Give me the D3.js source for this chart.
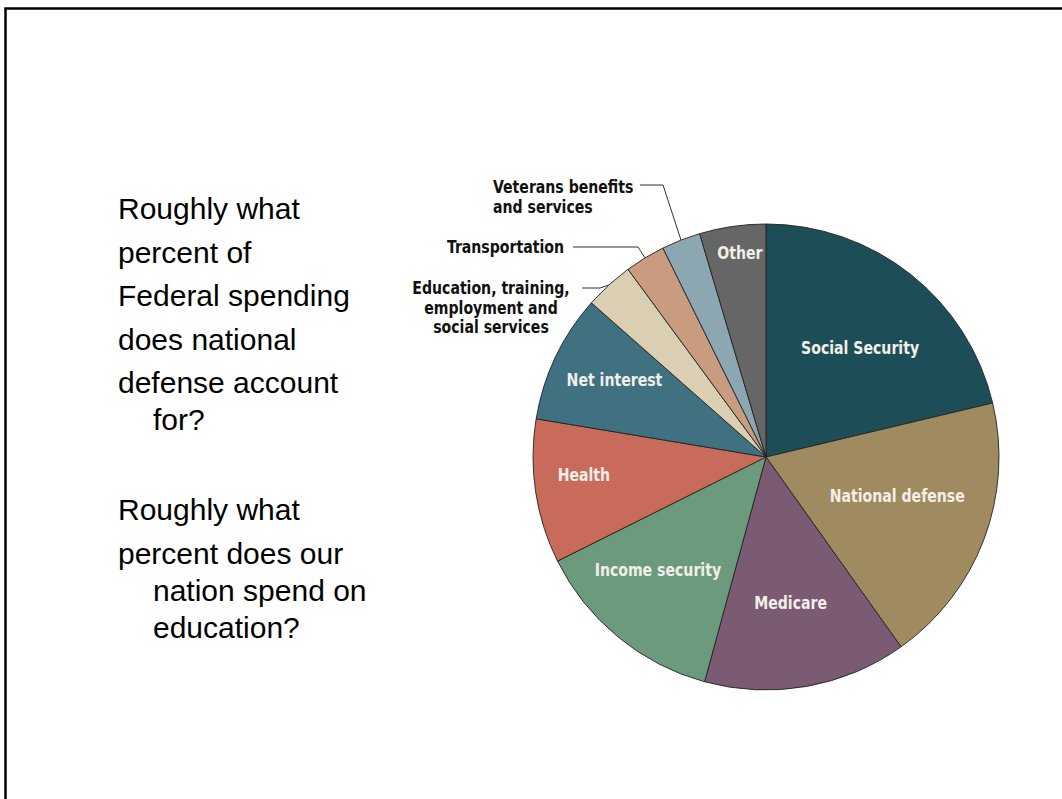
<!DOCTYPE html>
<html>
<head>
<meta charset="utf-8">
<script src="https://cdn.jsdelivr.net/npm/d3@7"></script>
<style>
  html, body { margin: 0; padding: 0; background: #fff; }
  svg { display: block; }
  .question { font-family: "Liberation Sans", Arial, sans-serif; font-size: 30px; fill: #000; }
  .slice-label { font-family: "Liberation Sans Narrow", "DejaVu Sans Condensed", "Liberation Sans", sans-serif; font-weight: bold; font-size: 18px; }
</style>
</head>
<body>
<svg id="chart" width="1062" height="799"></svg>
<script>
// Federal spending shares (percent), clockwise from 12 o'clock
const categories = [
  "Social Security", "National defense", "Medicare", "Income security", "Health",
  "Net interest", "Education, training, employment and social services",
  "Transportation", "Veterans benefits and services", "Other"
];
const shares = [21.3, 18.9, 14.1, 13.4, 10.0, 8.9, 3.4, 2.8, 2.7, 4.6];
const sliceColors = [
  "#1d4e57", "#a08a5f", "#7b5a73", "#6b9a7d", "#c86b5b",
  "#3f7181", "#dacfb2", "#c99b7f", "#8ca6b2", "#666666"
];

// question text on the left of the slide
const questionLines = [
  { text: "Roughly what", indent: false },
  { text: "percent of", indent: false },
  { text: "Federal spending", indent: false },
  { text: "does national", indent: false },
  { text: "defense account", indent: false },
  { text: "for?", indent: true },
  { text: "Roughly what", indent: false, gap: true },
  { text: "percent does our", indent: false },
  { text: "nation spend on", indent: true },
  { text: "education?", indent: true }
];

const svg = d3.select("#chart");
const squeeze = 0.87; // the chart's labels use a condensed face

// slide frame (only top and left edges show)
svg.append("path")
  .attr("d", "M5.5,799 V8.5 H1062")
  .attr("fill", "none")
  .attr("stroke", "#000")
  .attr("stroke-width", 2.5);

// questions
let y = 219;
questionLines.forEach((d, i) => {
  if (i > 0) {
    if (d.gap) y += 90;
    else if (d.indent) y += 37;
    else y += 43.5;
  }
  svg.append("text")
    .attr("class", "question")
    .attr("x", d.indent ? 153 : 118)
    .attr("y", y)
    .text(d.text);
});

// pie
const cx = 766, cy = 457, radius = 233;
const data = categories.map((c, i) => ({ name: c, value: shares[i], color: sliceColors[i] }));

const pie = d3.pie()
  .sort(null)
  .value(d => d.value)
  .startAngle(0)
  .endAngle(2 * Math.PI);

const arcs = pie(data);
const arc = d3.arc().innerRadius(0).outerRadius(radius);

const g = svg.append("g").attr("transform", `translate(${cx},${cy})`);

g.selectAll("path.slice")
  .data(arcs)
  .join("path")
  .attr("class", "slice")
  .attr("d", arc)
  .attr("fill", d => d.data.color)
  .attr("stroke", "#222")
  .attr("stroke-width", 0.9);

// inside labels: radius (and small angle nudge) where each one sits
const insideLabels = {
  "Social Security": { r: 144, da: 2.5 },
  "National defense": { r: 137, da: -4 },
  "Medicare": { r: 148, da: 0.5 },
  "Income security": { r: 156, da: 4.5 },
  "Health": { r: 183, da: 3 },
  "Net interest": { r: 170, da: 1.5 },
  "Other": { r: 206, da: 1 }
};

arcs.filter(d => insideLabels[d.data.name]).forEach(d => {
  const cfg = insideLabels[d.data.name];
  const a = (d.startAngle + d.endAngle) / 2 + cfg.da * Math.PI / 180;
  g.append("g")
    .attr("transform", `translate(${Math.sin(a) * cfg.r},${-Math.cos(a) * cfg.r}) scale(${squeeze},1)`)
    .append("text")
    .attr("class", "slice-label")
    .attr("dy", "0.35em")
    .attr("text-anchor", "middle")
    .attr("fill", "#f2efe8")
    .text(d.data.name);
});

// outside labels with leader lines
const outsideLabels = {
  "Veterans benefits and services": {
    lines: ["Veterans benefits", "and services"], anchor: "start", x: 493, y: 187, elbow: [663, 185], from: 640
  },
  "Transportation": {
    lines: ["Transportation"], anchor: "start", x: 447, y: 247, elbow: [638, 247], from: 573
  },
  "Education, training, employment and social services": {
    lines: ["Education, training,", "employment and", "social services"], anchor: "middle", x: 491, y: 288, elbow: [600, 288], from: 582
  }
};

arcs.filter(d => outsideLabels[d.data.name]).forEach(d => {
  const cfg = outsideLabels[d.data.name];
  const a = (d.startAngle + d.endAngle) / 2;
  const px = cx + Math.sin(a) * radius;
  const py = cy - Math.cos(a) * radius;

  svg.append("path")
    .attr("d", `M${cfg.from},${cfg.elbow[1]} H${cfg.elbow[0]} L${px},${py}`)
    .attr("fill", "none")
    .attr("stroke", "#333")
    .attr("stroke-width", 1);

  const t = svg.append("g")
    .attr("transform", `translate(${cfg.x},${cfg.y}) scale(${squeeze},1)`)
    .append("text")
    .attr("class", "slice-label")
    .attr("text-anchor", cfg.anchor)
    .attr("fill", "#111");
  cfg.lines.forEach((line, i) => {
    t.append("tspan")
      .attr("x", 0)
      .attr("y", i * 19.5)
      .attr("dy", "0.35em")
      .text(line);
  });
});
</script>
</body>
</html>
